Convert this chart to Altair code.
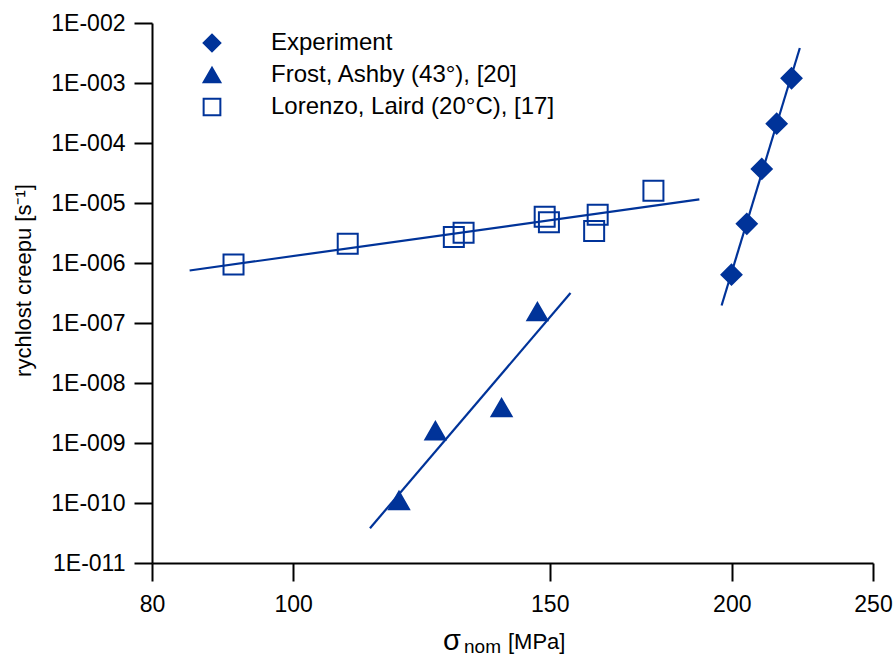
import altair as alt
import pandas as pd

BLUE = "#003399"
FONT = "Liberation Sans"

series_names = ["Experiment", "Frost, Ashby (43°), [20]", "Lorenzo, Laird (20°C), [17]"]
series_shapes = ["diamond", "triangle-up", "square"]
series_fills = [BLUE, BLUE, "transparent"]
series_strokes = [BLUE, BLUE, BLUE]

# measured points
exp_x = [199.9, 204.8, 209.7, 214.7, 219.8]
exp_y = [6.4e-7, 4.5e-6, 3.7e-5, 2.1e-4, 1.2e-3]

frost_x = [118.2, 125.2, 139.0, 147.1]
frost_y = [1.1e-10, 1.6e-9, 3.9e-9, 1.55e-7]

lor_x = [91.0, 109.0, 128.9, 130.9, 148.8, 149.8, 160.9, 161.8, 176.7]
lor_y = [9.4e-7, 2.1e-6, 2.7e-6, 3.2e-6, 5.9e-6, 4.8e-6, 3.4e-6, 6.4e-6, 1.6e-5]

# fitted lines (end points)
exp_fit_x = [196.8, 222.7]
exp_fit_y = [1.96e-7, 3.83e-3]
frost_fit_x = [112.9, 155.0]
frost_fit_y = [3.8e-11, 3.16e-7]
lor_fit_x = [84.9, 190.0]
lor_fit_y = [7.5e-7, 1.15e-5]

x_ticks = [80, 100, 150, 200, 250]
y_ticks = [1e-11, 1e-10, 1e-9, 1e-8, 1e-7, 1e-6, 1e-5, 1e-4, 1e-3, 1e-2]

# x-axis title pieces (sigma with subscript "nom")
title_parts = ["σ", "nom", "[MPa]"]

pts = []
for name, xs, ys in zip(series_names, [exp_x, frost_x, lor_x], [exp_y, frost_y, lor_y]):
    for a, b in zip(xs, ys):
        pts.append({"series": name, "x": a, "y": b})
points = pd.DataFrame(pts)

fl = []
for name, xs, ys in zip(series_names, [exp_fit_x, frost_fit_x, lor_fit_x],
                        [exp_fit_y, frost_fit_y, lor_fit_y]):
    for a, b in zip(xs, ys):
        fl.append({"series": name, "x": a, "y": b})
fits = pd.DataFrame(fl)

x_scale = alt.Scale(type="log", domain=[80, 250], nice=False)
y_scale = alt.Scale(type="log", domain=[1e-11, 1e-2], nice=False)

x_axis = alt.Axis(values=x_ticks, format="d", title=None, labelPadding=12,
                  labelFlush=False, labelOverlap=False)
y_axis = alt.Axis(values=y_ticks, title="rychlost creepu [s⁻¹]",
                  labelExpr="'1E-' + pad(toString(-round(log(datum.value)/LN10)), 3, '0', 'left')",
                  labelPadding=9, titleY=257, titlePadding=15,
                  labelFlush=False, labelOverlap=False)

legend = alt.Legend(title=None, orient="none", legendX=48, legendY=8,
                    labelFontSize=24, labelFont=FONT, labelLimit=0, symbolSize=280,
                    symbolStrokeWidth=2, labelOffset=47, rowPadding=7, padding=0)

lines = alt.Chart(fits).mark_line(color=BLUE, strokeWidth=2.2).encode(
    x=alt.X("x:Q", scale=x_scale, axis=x_axis),
    y=alt.Y("y:Q", scale=y_scale, axis=y_axis),
    detail="series:N",
)

marks = alt.Chart(points).mark_point(strokeWidth=2, opacity=1, size=400).encode(
    x=alt.X("x:Q", scale=x_scale, axis=x_axis),
    y=alt.Y("y:Q", scale=y_scale, axis=y_axis),
    shape=alt.Shape("series:N", scale=alt.Scale(domain=series_names, range=series_shapes),
                    legend=legend),
    fill=alt.Fill("series:N", scale=alt.Scale(domain=series_names, range=series_fills),
                  legend=legend),
    stroke=alt.Stroke("series:N", scale=alt.Scale(domain=series_names, range=series_strokes),
                      legend=legend),
)

tdf = pd.DataFrame({"t": title_parts})
sigma = alt.Chart(tdf).transform_filter(alt.datum.t == title_parts[0]).mark_text(
    font=FONT, fontSize=29, align="left", baseline="alphabetic", color="black"
).encode(text="t:N", x=alt.value(291), y=alt.value(627))
nom = alt.Chart(tdf).transform_filter(alt.datum.t == title_parts[1]).mark_text(
    font=FONT, fontSize=19, align="left", baseline="alphabetic", color="black"
).encode(text="t:N", x=alt.value(312), y=alt.value(630))
mpa = alt.Chart(tdf).transform_filter(alt.datum.t == title_parts[2]).mark_text(
    font=FONT, fontSize=22, align="left", baseline="alphabetic", color="black"
).encode(text="t:N", x=alt.value(356), y=alt.value(626))

chart = alt.layer(lines, marks, sigma, nom, mpa).properties(
    width=721, height=540,
    padding={"left": 152, "top": 23, "right": 22, "bottom": 94},
    autosize=alt.AutoSizeParams(type="none"),
    background="white",
).configure_view(stroke=None).configure_axis(
    domainColor="black", domainWidth=2, tickColor="black", tickWidth=2, tickSize=18,
    labelFont=FONT, labelFontSize=23, labelColor="black",
    titleFont=FONT, titleFontSize=22, titleFontWeight="normal", titleColor="black",
    grid=False,
).configure_legend(labelColor="black")

chart.save("out.html", embed_options={"renderer": "svg", "actions": False})
